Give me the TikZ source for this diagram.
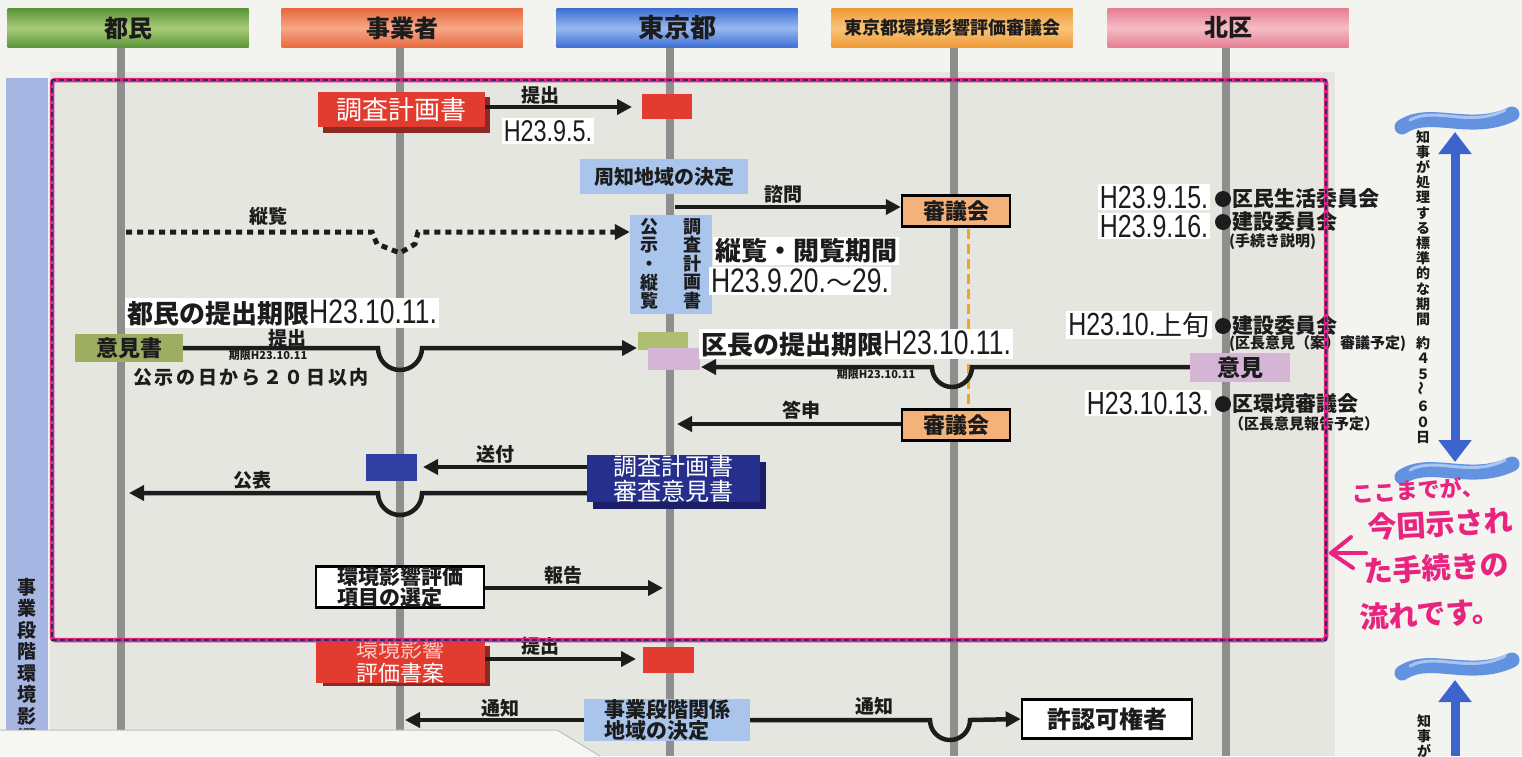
\documentclass[tikz,border=0pt]{standalone}
\usepackage{fontspec}
\setmainfont{Noto Sans CJK JP}
\newfontfamily\nar[FakeStretch=0.78]{Liberation Sans}
\usetikzlibrary{arrows.meta,shapes.geometric}
\newcommand\fsz[1]{\fontsize{#1}{#1}\selectfont}
\newcommand\dt[2]{{\fontsize{#1}{#1}\nar #2}}
\definecolor{bgc}{HTML}{F3F3F0}
\definecolor{areac}{HTML}{E6E6E1}
\definecolor{bandc}{HTML}{A6B7E4}
\definecolor{lifec}{HTML}{8E8E8E}
\definecolor{pinkc}{HTML}{E0277F}
\definecolor{navyd}{HTML}{2B2B6B}
\definecolor{redc}{HTML}{E23B2F}
\definecolor{redsh}{HTML}{8B2A22}
\definecolor{lbc}{HTML}{A9C5EC}
\definecolor{shinc}{HTML}{F4B27A}
\definecolor{orgc}{HTML}{F2A324}
\definecolor{grc}{HTML}{9DAE62}
\definecolor{gsmc}{HTML}{AEBE72}
\definecolor{lilc}{HTML}{D5B5D6}
\definecolor{navyc}{HTML}{26308C}
\definecolor{navysh}{HTML}{1B2066}
\definecolor{nsmc}{HTML}{3040A2}
\definecolor{arrowblue}{HTML}{3D63CF}
\definecolor{wavec}{HTML}{6393E0}
\definecolor{wavel}{HTML}{A9C6F2}
\definecolor{hwc}{HTML}{E8247F}
\definecolor{txt}{HTML}{1C1C1C}
\definecolor{ovc}{HTML}{F6F6F4}
\definecolor{gD}{HTML}{5A9438}\definecolor{gL}{HTML}{A9CC7A}
\definecolor{rD}{HTML}{E8683E}\definecolor{rL}{HTML}{F6A888}
\definecolor{bD}{HTML}{3E6FD4}\definecolor{bL}{HTML}{98B8F0}
\definecolor{oD}{HTML}{F19A36}\definecolor{oL}{HTML}{F8C47A}
\definecolor{pD}{HTML}{E57F91}\definecolor{pL}{HTML}{F5BCC7}
\begin{document}
\begin{tikzpicture}[x=1pt,y=-1pt,
  every node/.style={text=txt},
  hdr/.style={minimum width=241pt, minimum height=39pt, inner sep=0pt, font=\fsz{24}\bfseries},
  life/.style={line width=8pt, draw=lifec},
  arr/.style={draw=txt, line width=4.5pt, -{Triangle[length=15pt,width=15pt]}},
  lbl/.style={font=\fsz{19}\bfseries, inner sep=1pt},
  smalltxt/.style={font=\fsz{11}\bfseries, inner sep=1pt},
  wbox/.style={fill=white, inner sep=2pt},
  redbox/.style={fill=redc, text=white, inner sep=0pt},
  lbbox/.style={fill=lbc, inner sep=0pt},
  shin/.style={fill=shinc, draw=black, line width=2.5pt, minimum width=108pt, minimum height=31pt, inner sep=0pt, font=\fsz{22}\bfseries},
  wbbox/.style={fill=white, draw=black, line width=2.5pt, inner sep=0pt},
  blackdot/.style={circle, fill=txt, minimum size=16pt, inner sep=0pt},
  comm/.style={anchor=west, font=\fsz{21}\bfseries, inner sep=0pt},
  commsub/.style={anchor=west, font=\fsz{15}\bfseries, inner sep=0pt},
  vtext/.style={anchor=north, align=center, inner sep=0pt},
  wavy/.style={line width=15pt, draw=wavec, line cap=round},
  wavyin/.style={line width=3pt, draw=wavel, line cap=round},
  barr/.style={draw=arrowblue, line width=9pt, {Triangle[length=22pt,width=32pt]}-{Triangle[length=22pt,width=32pt]}},
  uarr/.style={draw=arrowblue, line width=9pt, -{Triangle[length=22pt,width=32pt]}},
  handw/.style={text=hwc, font=\fsz{29}\bfseries, rotate=3, inner sep=0pt},
  hwline/.style={draw=hwc, line width=4pt, line cap=round, line join=round}
]
\useasboundingbox (0,0) rectangle (1522,756);
\fill[bgc] (0,0) rectangle (1522,756);
\fill[areac] (50,72) rectangle (1335,756);
% left band
\fill[bandc] (6,78) rectangle (48,756);
\node[vtext, font=\fontsize{19}{21.5}\selectfont\bfseries] (bandtxt) at (27,578) {事\\業\\段\\階\\環\\境\\影\\響};
% headers
\node[hdr, shading=axis, top color=gD, bottom color=gD, middle color=gL] (h1) at (128,28) {都民};
\node[hdr, shading=axis, top color=rD, bottom color=rD, middle color=rL] (h2) at (402,28) {事業者};
\node[hdr, shading=axis, top color=bD, bottom color=bD, middle color=bL, font=\fsz{26}\bfseries] (h3) at (677,28) {東京都};
\node[hdr, shading=axis, top color=oD, bottom color=oD, middle color=oL, font=\fsz{18}\bfseries] (h4) at (952,28) {東京都環境影響評価審議会};
\node[hdr, shading=axis, top color=pD, bottom color=pD, middle color=pL] (h5) at (1228,28) {北区};
% lifelines
\coordinate (l1t) at (121,48); \coordinate (l1b) at (121,756);
\coordinate (l2t) at (400,48); \coordinate (l2b) at (400,756);
\coordinate (l3t) at (670,48); \coordinate (l3b) at (670,756);
\coordinate (l4t) at (954,48); \coordinate (l4b) at (954,756);
\coordinate (l5t) at (1226,48); \coordinate (l5b) at (1226,756);
\foreach \i in {1,...,5} {\draw[life] (l\i t) -- (l\i b);}
% 調査計画書
\fill[redsh] (323,97) rectangle (490,133);
\node[redbox, minimum width=167pt, minimum height=35pt, font=\fsz{26}] (chosa) at (401.5,109.5) {調査計画書};
\node[fill=redc, minimum width=50pt, minimum height=25pt, inner sep=0pt] (tr1) at (667,106.5) {};
\draw[arr] (chosa.east |- 0,107) -- (632,107) coordinate (tr1in);
\node[lbl] (teishutsu1) at (540,95) {提出};
\node[wbox] (d95) at (548,131) {\dt{30}{H23.9.5.}};
% 周知地域の決定
\node[lbbox, minimum width=168pt, minimum height=35pt, font=\fsz{20}\bfseries] (shuchi) at (664,176.5) {周知地域の決定};
% 審議会 1
\node[shin] (sg1) at (956,211) {審議会};
\coordinate (s1) at (675,207);
\draw[arr] (s1) -- (sg1.west |- 0,207);
\node[lbl] (shimon) at (783,194) {諮問};
% orange dashed
\coordinate (od1) at (968,229); \coordinate (od2) at (968,407);
\draw[draw=orgc, line width=3pt, dash pattern=on 10pt off 5pt] (od1) -- (od2);
% 公示・縦覧 box
\node[lbbox, minimum width=82pt, minimum height=99pt] (koji) at (671,264) {};
\node[vtext, font=\fontsize{18}{18.6}\selectfont\bfseries] (kojiL) at (649,218) {公\\示\\・\\縦\\覧};
\node[vtext, font=\fontsize{18}{18.6}\selectfont\bfseries] (kojiR) at (692,218) {調\\査\\計\\画\\書};
% dotted 縦覧
\coordinate (j0) at (126,232);
\draw[draw=txt, line width=5pt, dash pattern=on 6pt off 5pt, -{Triangle[length=15pt,width=15pt]}]
  (j0) -- (372,232) -- (377,244) -- (400,253) -- (415,244) -- (418,232) -- (koji.west |- 0,232);
\node[lbl] (jurann) at (268,216) {縦覧};
% 縦覧・閲覧期間
\node[wbox] (etsuran) at (806,251) {\fsz{26}\bfseries 縦覧・閲覧期間};
\node[wbox] (kikan) at (800,281) {\dt{34}{H23.9.20.}{\fsz{26}～}\dt{34}{29.}};
% 都民の提出期限
\node[wbox] (tomin) at (282,313) {{\fsz{26}\bfseries 都民の提出期限}\dt{34}{H23.10.11.}};
% 意見書
\node[fill=grc, minimum width=108pt, minimum height=28pt, inner sep=0pt, font=\fsz{22}\bfseries] (ikensho) at (129,348) {意見書};
\node[fill=gsmc, minimum width=50pt, minimum height=18pt, inner sep=0pt] (gsm) at (663,341) {};
\node[fill=lilc, minimum width=52pt, minimum height=22pt, inner sep=0pt] (lsm) at (674,359) {};
\draw[arr] (ikensho.east) -- (378,348) arc[start angle=180, end angle=0, radius=22] -- (637,348) coordinate (gin);
\node[lbl] (teishutsu2) at (287,338) {提出};
\node[smalltxt] (kigen1) at (268,355) {期限H23.10.11};
\node[font=\fsz{19}\bfseries\addfontfeature{LetterSpace=14}, inner sep=0pt] (koji20) at (251,377) {公示の日から２０日以内};
% 区長の提出期限
\node[wbox] (kucho) at (856,344) {{\fsz{26}\bfseries 区長の提出期限}\dt{34}{H23.10.11.}};
% 意見
\node[fill=lilc, minimum width=100pt, minimum height=29pt, inner sep=0pt, font=\fsz{23}\bfseries] (iken) at (1240,367.5) {意見};
\draw[arr] (iken.west |- 0,367) -- (972,367) arc[start angle=0, end angle=180, radius=20] -- (701,367) coordinate (lin);
\node[smalltxt] (kigen2) at (876,374) {期限H23.10.11};
% right labels
\node[wbox] (d915) at (1154,197) {\dt{32}{H23.9.15.}};
\node[blackdot] (p1) at (1223,199) {};
\node[comm] (c1) at (1232,199) {区民生活委員会};
\node[wbox] (d916) at (1154,226) {\dt{32}{H23.9.16.}};
\node[blackdot] (p2) at (1223,222) {};
\node[comm] (c2) at (1232,222) {建設委員会};
\node[commsub] (c2s) at (1229,242) {(手続き説明)};
\node[wbox] (d10) at (1139,325) {\dt{32}{H23.10.}{\fsz{27}上旬}};
\node[blackdot] (p3) at (1223,326) {};
\node[comm] (c3) at (1232,326) {建設委員会};
\node[commsub] (c3s) at (1229,344) {(区長意見（案）審議予定)};
\node[wbox] (d1013) at (1148,403) {\dt{32}{H23.10.13.}};
\node[blackdot] (p4) at (1223,404) {};
\node[comm] (c4) at (1232,404) {区環境審議会};
\node[commsub] (c4s) at (1229,424) {（区長意見報告予定）};
% 審議会 2
\node[shin] (sg2) at (956,425) {審議会};
\draw[arr] (sg2.west |- 0,424) -- (677,424) coordinate (tou);
\node[lbl] (toushin) at (801,410) {答申};
% 審査意見書
\fill[navysh] (593,462) rectangle (766,509);
\node[fill=navyc, text=white, minimum width=173pt, minimum height=47pt, inner sep=0pt, align=center, font=\fontsize{24}{25}\selectfont] (shinsa) at (673.5,478.5) {調査計画書\\審査意見書};
\node[fill=nsmc, minimum width=51pt, minimum height=27pt, inner sep=0pt] (nsm) at (391,467) {};
\draw[arr] (shinsa.west |- 0,467) -- (423,467) coordinate (nin);
\node[lbl] (soufu) at (495,454) {送付};
\draw[arr] (shinsa.west |- 0,493) -- (422,493) arc[start angle=0, end angle=180, radius=22] -- (129,493) coordinate (kouhyoend);
\node[lbl] (kouhyo) at (252,480) {公表};
% 項目の選定
\node[wbbox, minimum width=168pt, minimum height=41pt, align=left, font=\fontsize{21}{20}\selectfont\bfseries] (koumoku) at (400,587) {環境影響評価\\項目の選定};
\draw[arr] (koumoku.east |- 0,588) -- (663,588) coordinate (hin);
\node[lbl] (houkoku) at (563,575) {報告};
% 評価書案
\fill[redsh] (323,646) rectangle (490,686);
\node[redbox, minimum width=169pt, minimum height=41pt, align=center, font=\fontsize{22}{24}\selectfont] (hyoka) at (400.5,661) {{\color{white!75!redc}環境影響}\\評価書案};
\node[fill=redc, minimum width=51pt, minimum height=26pt, inner sep=0pt] (tr2) at (668,660) {};
\draw[arr] (hyoka.east |- 0,659) -- (636,659) coordinate (t2in);
\node[lbl] (teishutsu3) at (540,646) {提出};
% 事業段階関係地域の決定
\node[lbbox, minimum width=166pt, minimum height=42pt, align=left, font=\fontsize{21}{21}\selectfont\bfseries] (kankei) at (667,720) {事業段階関係\\地域の決定};
\draw[arr] (kankei.west) -- (405,720) coordinate (tsuchiL);
\node[lbl] (tsuchi1) at (500,708) {通知};
\node[wbbox, minimum width=170pt, minimum height=39pt, font=\fsz{24}\bfseries] (kyoka) at (1107,719) {許認可権者};
\draw[arr] (kankei.east) -- (930,720) arc[start angle=180, end angle=0, radius=20] -- (kyoka.west);
\node[lbl] (tsuchi2) at (874,706) {通知};
% pink dashed frame
\draw[draw=pinkc, line width=4.5pt, rounded corners=3pt] (52,80) rectangle (1326,640);
\draw[draw=navyd, line width=2pt, dash pattern=on 5pt off 3pt] (52,80) rectangle (1326,640);
% bottom-left overlay
\fill[ovc] (0,730) -- (557,730) -- (600,756) -- (0,756) -- cycle;
\draw[draw=black!25, line width=1pt] (0,730) -- (557,730) -- (600,756);
% right side period
\coordinate (w1a) at (1402,127); \coordinate (w1b) at (1512,114);
\draw[wavy] (w1a) .. controls (1430,108) and (1470,134) .. (w1b);
\draw[wavyin] (1410,120) .. controls (1435,106) and (1470,128) .. (1505,110);
\coordinate (w2a) at (1402,477); \coordinate (w2b) at (1512,464);
\draw[wavy] (w2a) .. controls (1430,458) and (1470,484) .. (w2b);
\draw[wavyin] (1410,470) .. controls (1435,456) and (1470,478) .. (1505,460);
\coordinate (w3a) at (1402,673); \coordinate (w3b) at (1512,660);
\draw[wavy] (w3a) .. controls (1430,654) and (1470,680) .. (w3b);
\draw[wavyin] (1410,666) .. controls (1435,652) and (1470,674) .. (1505,656);
\coordinate (a1) at (1455,132); \coordinate (a2) at (1455,462);
\draw[barr] (a2) -- (a1);
\coordinate (a3) at (1455,756); \coordinate (a4) at (1455,680);
\draw[uarr] (a3) -- (a4);
\node[vtext, font=\fontsize{14}{15.2}\selectfont\bfseries] (kikanT) at (1423,130) {知\\事\\が\\処\\理\\す\\る\\標\\準\\的\\な\\期\\間};
\node[vtext, font=\fontsize{14}{15.8}\selectfont\bfseries] (nissu) at (1423,336) {約\\４\\５\\\rotatebox{90}{～}\\６\\０\\日};
\node[vtext, font=\fontsize{14}{15.2}\selectfont\bfseries] (kikanT2) at (1424,714) {知\\事\\が};
% handwritten note
\node[handw, font=\fsz{22}\bfseries] (hw1) at (1418,490) {ここまでが、};
\node[handw] (hw2) at (1440,524) {今回示され};
\node[handw] (hw3) at (1436,568) {た手続きの};
\node[handw] (hw4) at (1430,614) {流れです。};
\coordinate (pa0) at (1366,553); \coordinate (pa1) at (1331,553);
\draw[hwline] (pa0) -- (pa1);
\draw[hwline] (1351,537) -- (pa1) -- (1353,568);
\end{tikzpicture}
\end{document}
